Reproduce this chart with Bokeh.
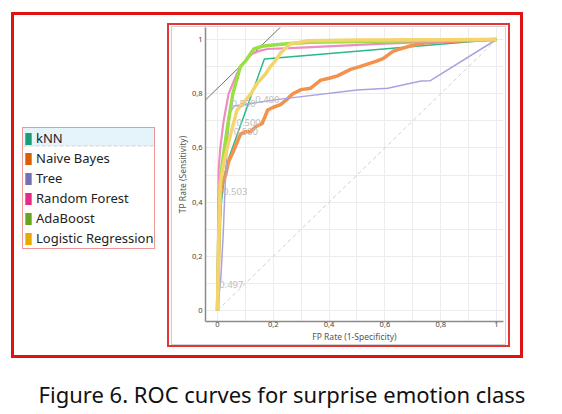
from bokeh.plotting import figure
from bokeh.layouts import row, column
from bokeh.models import (Range1d, FixedTicker, Legend, LegendItem, BoxAnnotation,
                          Label, CustomJSTickFormatter)
from bokeh.embed import file_html
from bokeh.resources import INLINE
from bokeh.core.properties import value

# ---------------- data ----------------
models = ["kNN", "Naive Bayes", "Tree", "Random Forest", "AdaBoost", "Logistic Regression"]
legend_colors = ["#1b9e77", "#d95f02", "#7570b3", "#e7298a", "#66a61e", "#e6ab02"]
curve_colors = ["#2bb88c", "#f4914d", "#a7a3df", "#f08cc4", "#9be043", "#f6d46c"]

knn_fpr = [0, 0.004, 0.012, 0.025, 0.036, 0.168, 1.0]
knn_tpr = [0, 0.20, 0.38, 0.50, 0.55, 0.928, 1.0]

nb_fpr = [0, 0.004, 0.010, 0.015, 0.029, 0.040, 0.054, 0.070, 0.082, 0.100, 0.118,
          0.140, 0.160, 0.180, 0.200, 0.226, 0.250, 0.270, 0.300, 0.333, 0.370,
          0.400, 0.430, 0.477, 0.510, 0.540, 0.570, 0.595, 0.630, 0.690, 0.740,
          0.800, 0.900, 1.0]
nb_tpr = [0, 0.20, 0.42, 0.46, 0.50, 0.55, 0.58, 0.62, 0.65, 0.66, 0.66,
          0.68, 0.69, 0.74, 0.75, 0.76, 0.78, 0.80, 0.815, 0.82, 0.85,
          0.857, 0.866, 0.89, 0.90, 0.91, 0.92, 0.93, 0.957, 0.976, 0.987,
          0.992, 0.996, 1.0]

tree_fpr = [0, 0.012, 0.020, 0.027, 0.035, 0.045, 0.060, 0.226, 0.500, 0.610, 0.730, 0.763, 1.0]
tree_tpr = [0, 0.12, 0.27, 0.45, 0.62, 0.73, 0.755, 0.78, 0.814, 0.82, 0.847, 0.848, 1.0]

rf_fpr = [0, 0.002, 0.004, 0.010, 0.022, 0.040, 0.070, 0.090, 0.120, 0.150, 0.180, 0.300, 0.600, 1.0]
rf_tpr = [0, 0.30, 0.52, 0.60, 0.70, 0.80, 0.875, 0.91, 0.945, 0.958, 0.965, 0.970, 0.985, 1.0]

ada_fpr = [0, 0.005, 0.012, 0.025, 0.036, 0.055, 0.082, 0.100, 0.130, 0.160, 0.200, 0.260, 0.333, 0.500, 1.0]
ada_tpr = [0, 0.30, 0.50, 0.60, 0.68, 0.80, 0.90, 0.92, 0.965, 0.975, 0.980, 0.985, 0.990, 0.993, 1.0]

lr_fpr = [0, 0.004, 0.010, 0.020, 0.035, 0.047, 0.070, 0.093, 0.120, 0.143, 0.170,
          0.190, 0.210, 0.226, 0.260, 0.320, 0.500, 1.0]
lr_tpr = [0, 0.25, 0.47, 0.53, 0.60, 0.65, 0.74, 0.766, 0.80, 0.84, 0.87,
          0.90, 0.925, 0.95, 0.983, 0.995, 0.998, 1.0]

curves_fpr = [knn_fpr, nb_fpr, tree_fpr, rf_fpr, ada_fpr, lr_fpr]
curves_tpr = [knn_tpr, nb_tpr, tree_tpr, rf_tpr, ada_tpr, lr_tpr]
curve_widths = [1.5, 3.5, 1.5, 2.2, 3.5, 3.5]

thr_text = ["0.497", "0.503", "0.500", "0.500", "0.500", "0.400"]
thr_x = [0.006, 0.020, 0.058, 0.068, 0.050, 0.135]
thr_y = [0.096, 0.440, 0.660, 0.695, 0.765, 0.778]

iso_x = [-0.2, 0.4]
iso_y = [0.62, 1.22]

axis_ticks = [0, 0.2, 0.4, 0.6, 0.8, 1.0]
grid_ticks = [0, 0.1, 0.2, 0.3, 0.4, 0.5, 0.6, 0.7, 0.8, 0.9, 1.0]

caption = "Figure 6. ROC curves for surprise emotion class"

# ---------------- ROC figure ----------------
roc = figure(width=333, height=317, output_backend="svg", toolbar_location=None,
             x_range=Range1d(-0.043, 1.0251), y_range=Range1d(-0.0406, 1.0443),
             min_border_left=33, min_border_right=2, min_border_top=0,
             min_border_bottom=23, margin=(1, 1, 1, 1))
roc.outline_line_color = None

for ax, lab in ((roc.xaxis[0], "FP Rate (1-Specificity)"), (roc.yaxis[0], "TP Rate (Sensitivity)")):
    ax.ticker = FixedTicker(ticks=axis_ticks)
    ax.formatter = CustomJSTickFormatter(code="return String(Math.round(tick*10)/10).replace('.', ',')")
    ax.axis_label = lab
    ax.axis_label_text_font = "Noto Sans"
    ax.axis_label_text_font_size = "8.5px"
    ax.axis_label_text_font_style = "normal"
    ax.axis_label_text_color = "#555555"
    ax.major_label_text_font = "Noto Sans"
    ax.major_label_text_font_size = "7.5px"
    ax.major_label_text_color = "#444444"
    ax.axis_line_color = "#8a8a8a"
    ax.axis_line_width = 1.5
    ax.major_tick_out = 0
    ax.major_tick_in = 0
    ax.minor_tick_out = 0
    ax.minor_tick_in = 0
roc.xaxis.major_label_standoff = 0
roc.xaxis.axis_label_standoff = 1
roc.yaxis.major_label_standoff = 3
roc.yaxis.axis_label_standoff = 1

roc.xgrid.ticker = FixedTicker(ticks=grid_ticks)
roc.ygrid.ticker = FixedTicker(ticks=grid_ticks)
roc.xgrid.grid_line_color = "#ececec"
roc.ygrid.grid_line_color = "#ececec"

roc.line([0, 1], [0, 1], line_color="#cfcfcf", line_dash="4 3", line_width=1)
roc.line(iso_x, iso_y, line_color="#707070", line_width=1)

for fx, ty, c, w in zip(curves_fpr, curves_tpr, curve_colors, curve_widths):
    roc.line(fx, ty, line_color=c, line_width=w, line_join="round")

roc.text(x=thr_x, y=thr_y, text=thr_text, text_color="#bdbdbd", text_font_size="9.5px",
         text_font=value("Noto Sans"), text_baseline="middle", text_align="left")

gray_box = column(roc, margin=(3, 4, 2, 4),
                  styles={"outline": "1px solid #d2d2d2", "outline-offset": "-1px"})
red_box = column(gray_box, margin=(11, 13, 11, 0),
                 styles={"outline": "2px solid #e23636", "outline-offset": "-2px"})

# ---------------- legend panel (page-pixel coordinates) ----------------
leg = figure(width=145, height=228, output_backend="svg", toolbar_location=None,
             x_range=Range1d(22, 167), y_range=Range1d(355, 127),
             x_axis_type=None, y_axis_type=None, min_border=0, margin=(115, 0, 3, 11))
leg.outline_line_color = None
leg.xgrid.visible = False
leg.ygrid.visible = False

leg.add_layout(BoxAnnotation(left=23, right=154, top=127.5, bottom=145.5,
                             fill_color="#e5f3fb", fill_alpha=1, line_alpha=0))
leg.add_layout(BoxAnnotation(left=23, right=154, top=145.5, bottom=145.5, fill_alpha=0,
                             line_color="#777777", line_dash="dotted", line_width=1))

nan = float("nan")
items = []
for name, c in zip(models, legend_colors):
    r = leg.quad(left=[nan], right=[nan], top=[nan], bottom=[nan], fill_color=c, line_color=None)
    items.append(LegendItem(label=name, renderers=[r]))
legend = Legend(items=items, location="top_left", orientation="vertical",
                border_line_color="#e23030", border_line_width=1.5,
                background_fill_alpha=0, padding=1, spacing=2, margin=0,
                label_height=14, glyph_height=15, glyph_width=8, label_standoff=4,
                label_text_font="Noto Sans", label_text_font_size="13px",
                label_text_color="#222222")
leg.add_layout(legend, "center")

top = row(leg, red_box, spacing=0, margin=(12, 0, 0, 11),
          styles={"outline": "3px solid #e01212", "outline-offset": "-3px"})

# ---------------- caption ----------------
cap = figure(width=562, height=56, output_backend="svg", toolbar_location=None,
             x_range=Range1d(0, 562), y_range=Range1d(56, 0),
             x_axis_type=None, y_axis_type=None, min_border=0)
cap.outline_line_color = None
cap.xgrid.visible = False
cap.ygrid.visible = False
cap.add_layout(Label(x=281.5, y=35, text=caption, text_font="Noto Sans",
                     text_font_size="22px", text_color="#111111",
                     text_align="center", text_baseline="middle"))

layout = column(top, cap, spacing=0)
open("out.html", "w").write(file_html(layout, INLINE))
